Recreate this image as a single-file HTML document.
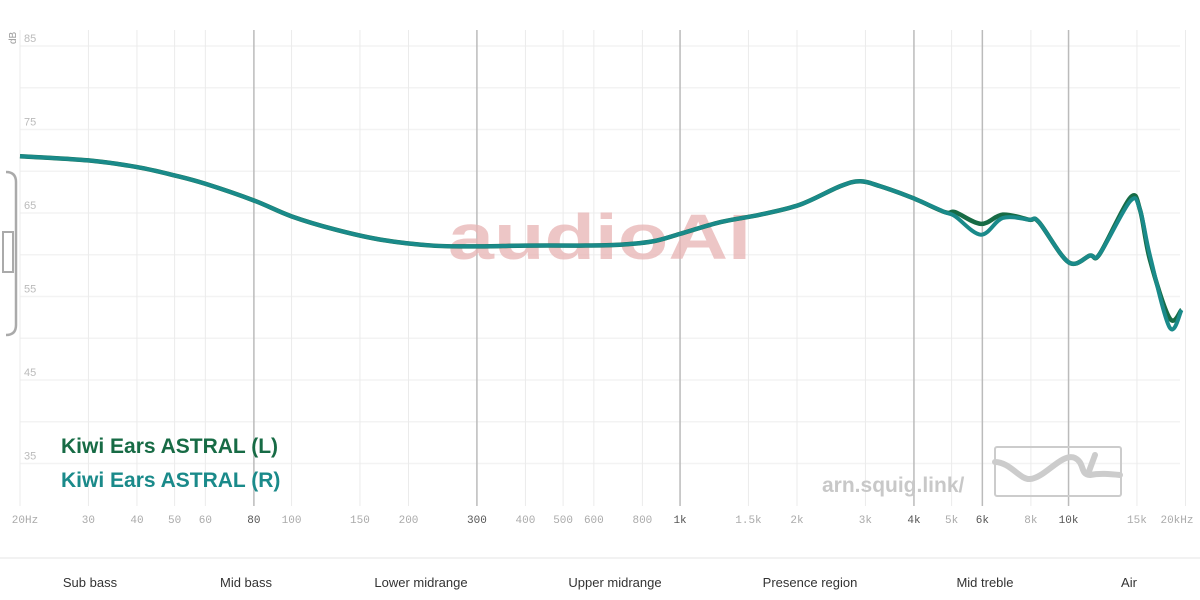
<!DOCTYPE html>
<html><head><meta charset="utf-8"><style>
body{margin:0;background:#fff;width:1200px;height:600px;overflow:hidden;font-family:"Liberation Sans",sans-serif}
svg{display:block}
</style></head><body>
<svg id="chart" width="1200" height="600" viewBox="0 0 1200 600" xmlns="http://www.w3.org/2000/svg">
<g id="grid"></g>
<text x="448" y="259" font-size="64" font-weight="bold" fill="#e8b4b4" opacity="0.75" textLength="303" lengthAdjust="spacingAndGlyphs">audioAI</text>
<g id="curves"></g>
<g id="xlabels"></g>
<g id="ylabels"></g>
<text x="16" y="44" font-size="10" fill="#999" transform="rotate(-90 16 44)" text-anchor="start">dB</text>
<path d="M6 172 Q16 172 16 182 L16 325 Q16 335 6 335" fill="none" stroke="#aaa" stroke-width="2.5"/>
<rect x="3" y="232" width="10" height="40" fill="none" stroke="#aaa" stroke-width="2"/>
<text x="61" y="453" font-size="21" font-weight="bold" fill="#176b45">Kiwi Ears ASTRAL (L)</text>
<text x="61" y="487" font-size="21" font-weight="bold" fill="#1a8a8a">Kiwi Ears ASTRAL (R)</text>
<text x="822" y="492" font-size="21" font-weight="bold" fill="#c8c8c8">arn.squig.link/</text>
<g>
<rect x="995" y="447" width="126" height="49" rx="2" fill="none" stroke="#ccc" stroke-width="2"/>
<path d="M995 462 C1010 462 1020 480 1030 479 C1045 478 1062 452 1075 458 C1085 463 1080 475 1090 475 C1100 473 1110 474 1120 475 M1088 474 L1095 455" fill="none" stroke="#ccc" stroke-width="6" stroke-linecap="round"/>
</g>
<line x1="0" y1="558" x2="1200" y2="558" stroke="#e5e5e5"/>
<g font-size="13" fill="#333" text-anchor="middle">
<text x="90" y="587">Sub bass</text><text x="246" y="587">Mid bass</text><text x="421" y="587">Lower midrange</text><text x="615" y="587">Upper midrange</text><text x="810" y="587">Presence region</text><text x="985" y="587">Mid treble</text><text x="1129" y="587">Air</text>
</g>
</svg>
<script>
const freqTicks=[20,30,40,50,60,80,100,150,200,300,400,500,600,800,1000,1500,2000,3000,4000,5000,6000,8000,10000,15000,20000];
const freqTickLabels=["20Hz","30","40","50","60","80","100","150","200","300","400","500","600","800","1k","1.5k","2k","3k","4k","5k","6k","8k","10k","15k","20kHz"];
const majorTicks=[80,300,1000,4000,6000,10000];
const dbTicks=[85,75,65,55,45,35];
const freqL=[20,30,40,50,60,80,100,130,170,230,300,400,550,700,850,1000,1268,1607,2037,2582,2906,3276,3970,4807,5107,5950,6770,7910,8390,10000,11350,12030,14400,15270,16200,18200,19540];
const dbL=[71.8,71.3,70.5,69.5,68.5,66.5,64.6,63.0,61.8,61.1,61.0,61.1,61.1,61.2,61.6,62.5,63.9,64.8,66.0,68.2,68.8,68.2,66.8,65.1,65.1,63.7,64.8,64.2,63.9,59.1,59.9,60.1,66.8,65.4,59.4,52.4,53.4];
const dbR=[71.8,71.3,70.5,69.5,68.5,66.5,64.6,63.0,61.8,61.1,61.0,61.1,61.1,61.2,61.6,62.5,63.9,64.8,66.0,68.2,68.8,68.2,66.8,65.1,64.6,62.4,64.4,64.2,63.9,59.1,59.9,60.1,66.4,65.4,59.9,51.3,53.4];
const NS="http://www.w3.org/2000/svg";
const x=f=>20+388.5*Math.log10(f/20);
const y=d=>46+(85-d)*8.35;
function mk(tag,attrs,parent){const e=document.createElementNS(NS,tag);for(const k in attrs)e.setAttribute(k,attrs[k]);parent.appendChild(e);return e;}
const grid=document.getElementById('grid');
for(let d=85;d>=35;d-=5){const l=mk('line',{x1:20,x2:1180,y1:y(d),y2:y(d),stroke:'#f3f3f3','stroke-width':1.5},grid);

}
freqTicks.forEach((f,i)=>{const maj=majorTicks.includes(f);
const l=mk('line',{x1:x(f),x2:x(f),y1:30,y2:506,stroke:maj?'#bbb':'#ebebeb','stroke-width':maj?1.5:1},grid);


const t=mk('text',{x:x(f),y:523,'font-size':11,'font-family':'Liberation Mono,monospace','text-anchor':'middle',fill:maj?'#555':'#aaa'},document.getElementById('xlabels'));
t.textContent=freqTickLabels[i];

});
const xl=document.getElementById('xlabels');xl.firstChild.setAttribute('x',25);xl.lastChild.setAttribute('x',1177);
dbTicks.forEach(d=>{const t=mk('text',{x:24,y:y(d)-4,'font-size':11,fill:'#bbb'},document.getElementById('ylabels'));t.textContent=d;

});
function path(fs,ds){const p=fs.map((f,i)=>[x(f),y(ds[i])]);let s=`M${p[0][0]},${p[0][1]}`;
for(let i=0;i<p.length-1;i++){const p0=p[i-1]||p[i],p1=p[i],p2=p[i+1],p3=p[i+2]||p2;
s+=` C${p1[0]+(p2[0]-p0[0])/6},${p1[1]+(p2[1]-p0[1])/6} ${p2[0]-(p3[0]-p1[0])/6},${p2[1]-(p3[1]-p1[1])/6} ${p2[0]},${p2[1]}`;}return s;}
const c=document.getElementById('curves');
const a=mk('path',{d:path(freqL,dbL),fill:'none',stroke:'#176b45','stroke-width':4.5,'stroke-linejoin':'round'},c);


const b=mk('path',{d:path(freqL,dbR),fill:'none',stroke:'#1a8a8a','stroke-width':4,'stroke-linejoin':'round'},c);


</script>
</body></html>
